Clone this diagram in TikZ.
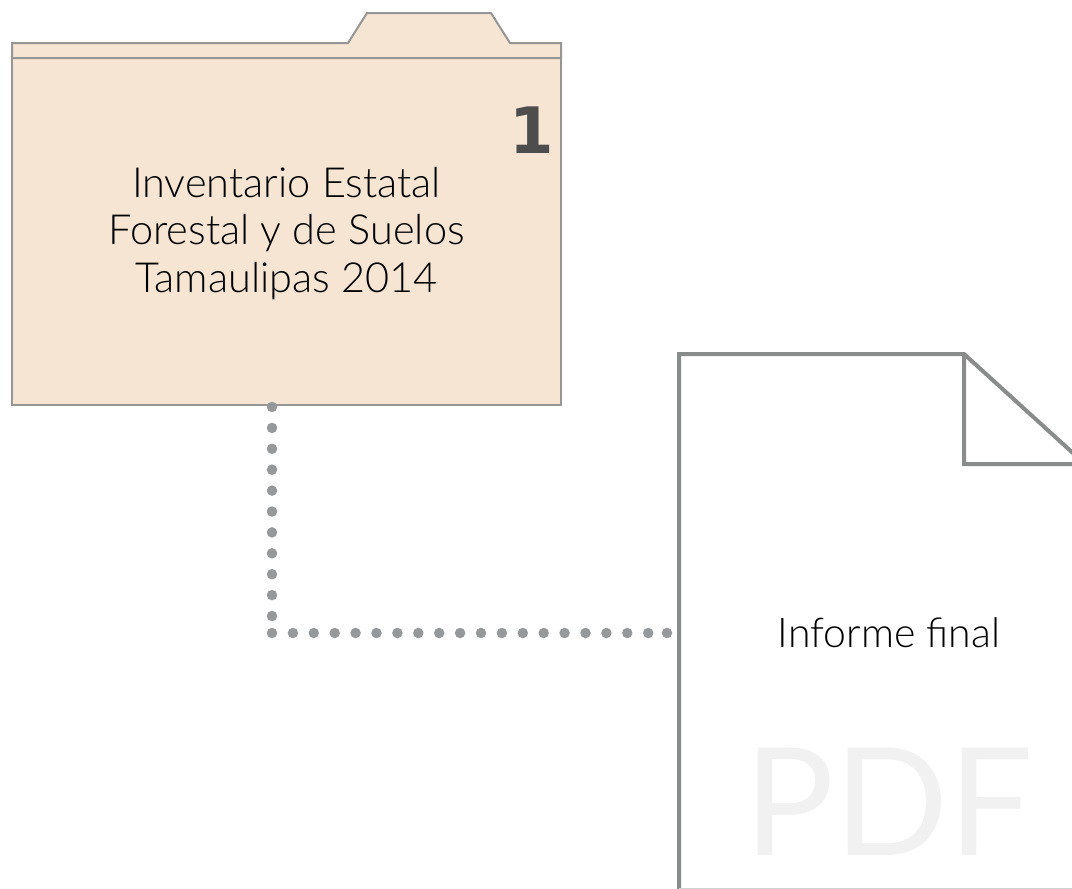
\documentclass[tikz,border=0pt]{standalone}
\usepackage{fontspec}
\setmainfont{Lato Light}
\newfontfamily\numfont{DejaVu Sans}
\newfontfamily\pdffont{Lato}
\usetikzlibrary{%
	positioning,
	calc
}
\definecolor{folderfill}{HTML}{F6E5D2}
\definecolor{folderline}{HTML}{969696}
\definecolor{docline}{HTML}{8A8C8B}
\definecolor{dotgray}{HTML}{97989A}
\definecolor{numgray}{HTML}{4D4D4D}
\definecolor{pdfgray}{HTML}{F1F1F2}

\begin{document}
\begin{tikzpicture}[
		x=1pt,y=-1pt,
		SFolder/.style={draw=folderline,fill=folderfill,line width=2pt,shape=rectangle,minimum width=549pt,minimum height=347pt,inner sep=0pt,outer sep=0pt},
		SLabel/.style={font=\fontsize{41.5}{47.5}\selectfont,align=center,inner sep=0pt,outer sep=0pt},
		SDoc/.style={shape=rectangle,minimum width=420pt,minimum height=535pt,inner sep=0pt,outer sep=0pt},
		outline/.style={draw=docline,line width=4pt,line join=miter},
		dotline/.style={draw=dotgray,line width=10.5pt,line cap=round,dash pattern=on 0pt off 20.9pt}
	]
	
		\path[use as bounding box] (0,0) rectangle (1072,889);
		\clip (0,0) rectangle (1072,889);
		
		\node(folder) [SFolder] at (286.5,231.5) {};
		\draw [draw=folderline,fill=folderfill,line width=2pt] (folder.north west) -- ++(0,-15) -- ++(336,0) -- ++(19,-30) -- ++(124,0) -- ++(19,30) -- (folder.north east |- 0,43) -- (folder.north east) -- cycle;
		\node(folder-label) [SLabel, below=109pt of folder.north] {Inventario Estatal\\Forestal y de Suelos\\Tamaulipas 2014};
		\node(folder-num) [inner sep=0pt,outer sep=0pt,text=numgray,font=\fontsize{64}{64}\selectfont\numfont\bfseries, below left=49pt and 7pt of folder.north east] {1};
		
		\node(doc) [SDoc] at (889,621.5) {};
		\draw [outline] (doc.south west) -- (doc.north west) -- ++(285,0) -- (1085,464) -- (964,464) -- (964,354);
		\draw [draw=docline!40,line width=2pt] (doc.south west) -- (doc.south east);
		\node(doc-label) [SLabel, font=\fontsize{41}{47}\selectfont] at (889,633) {Informe final};
		\node(doc-pdf) [inner sep=0pt,outer sep=0pt,text=pdfgray,font=\fontsize{150}{150}\selectfont\pdffont, below=100pt of doc-label] {PDF};
		
		\coordinate(bend) at (272,633);
		\coordinate(last) at (667,633);
		\draw [dotline] ($(bend |- folder.south)+(0,2)$) -- ($(bend)+(0,-10)$);
		\draw [dotline] (bend) -- ($(last)+(-10,0)$);
		\draw [dotline] (last) -- ++(1,0);
		
	\end{tikzpicture}
\end{document}
